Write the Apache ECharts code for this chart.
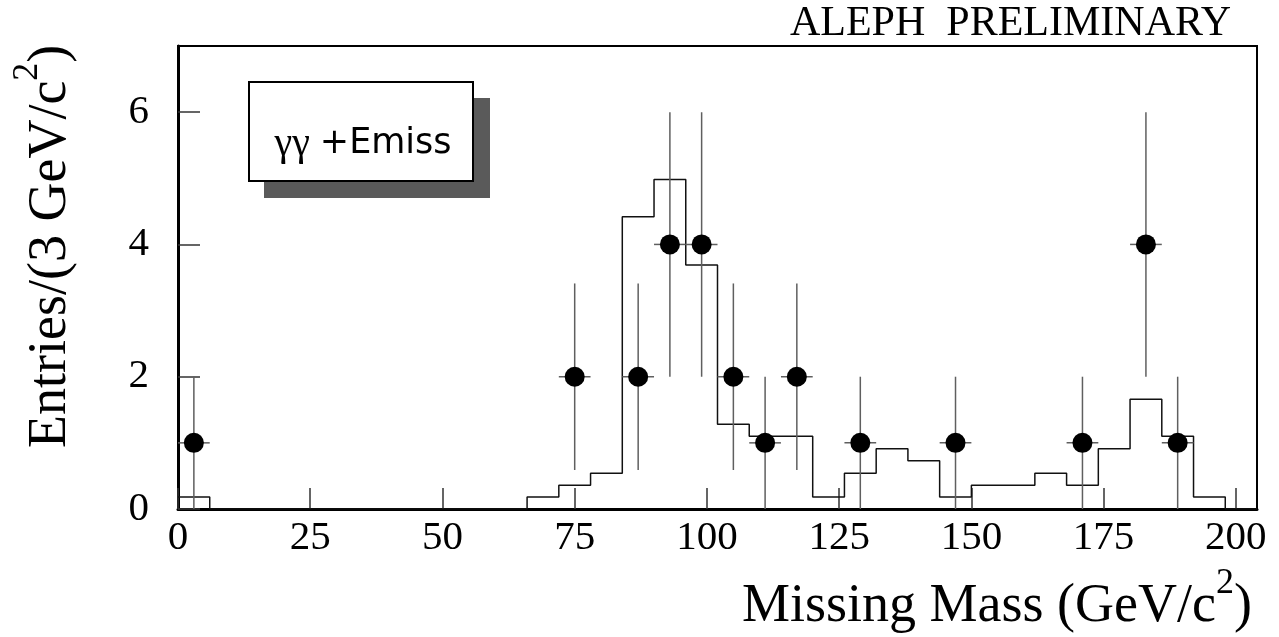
<!DOCTYPE html>
<html>
<head>
<meta charset="utf-8">
<script src="https://cdn.jsdelivr.net/npm/echarts@6/dist/echarts.min.js"></script>
<style>
  html, body { margin: 0; padding: 0; background: #fff; }
  #chart { width: 1279px; height: 637px; }
</style>
</head>
<body>
<div id="chart"></div>
<script>
// Simulated expectation: heights of 6 GeV/c^2 bins from 0 to 204
const binWidth = 6;
const mcHeights = [
  0.18, 0, 0, 0, 0, 0, 0, 0, 0, 0,
  0, 0.18, 0.36, 0.54, 4.42, 4.98, 3.69, 1.28, 1.10, 1.10,
  0.18, 0.54, 0.91, 0.73, 0.18, 0.36, 0.36, 0.54, 0.36, 0.91,
  1.66, 1.10, 0.18, 0
];

// Selected candidates: bin centre, entries and statistical error
const dataMass   = [3, 75, 87, 93, 99, 105, 111, 117, 129, 147, 171, 183, 189];
const dataCounts = [1, 2, 2, 4, 4, 2, 1, 2, 1, 1, 1, 4, 1];
const dataErr    = [1, 1.41, 1.41, 2, 2, 1.41, 1, 1.41, 1, 1, 1, 2, 1];

// Axis ticks
const xTicks = [0, 25, 50, 75, 100, 125, 150, 175, 200];
const yTicks = [0, 2, 4, 6];
const massMax = 204;
const entriesMax = 7;

const serif = '"Liberation Serif", "DejaVu Serif", serif';

// Step outline of the histogram: one point per left bin edge, closed at the upper edge
const histLine = mcHeights.map((h, i) => [i * binWidth, h]);
histLine.push([mcHeights.length * binWidth, 0]);

const errData = dataMass.map((m, i) => [m, dataCounts[i], dataErr[i], binWidth / 2]);
const pointData = dataMass.map((m, i) => [m, dataCounts[i]]);

// Axis title with a raised exponent
function titleRich() {
  return {
    a: { fontFamily: serif, fontSize: 54, fill: '#000', verticalAlign: 'bottom', padding: [14, 0, 0, 0] },
    s: { fontFamily: serif, fontSize: 36, fill: '#000', verticalAlign: 'top' }
  };
}

const chart = echarts.init(document.getElementById('chart'), null, { renderer: 'canvas' });

chart.setOption({
  animation: false,
  backgroundColor: '#fff',
  grid: {
    left: 178, right: 22, top: 46, bottom: 128,
    show: true, borderColor: '#000', borderWidth: 2, backgroundColor: 'transparent'
  },
  xAxis: {
    type: 'value', min: 0, max: massMax, interval: 25,
    axisLine: { show: true, onZero: false, lineStyle: { color: '#000', width: 3 } },
    axisTick: { show: true, inside: true, length: 21, lineStyle: { color: '#333', width: 1.5 } },
    axisLabel: {
      showMaxLabel: false, margin: 9, color: '#000', fontFamily: serif, fontSize: 41,
      formatter: v => (xTicks.indexOf(v) >= 0 ? String(v) : '')
    },
    splitLine: { show: false }
  },
  yAxis: {
    type: 'value', min: 0, max: entriesMax, interval: 2,
    axisLine: { show: true, onZero: false, lineStyle: { color: '#000', width: 3 } },
    axisTick: { show: true, inside: true, length: 22, lineStyle: { color: '#333', width: 1.5 } },
    axisLabel: {
      showMaxLabel: false, margin: 29, color: '#000', fontFamily: serif, fontSize: 41,
      formatter: v => (yTicks.indexOf(v) >= 0 ? String(v) : '')
    },
    splitLine: { show: false }
  },
  graphic: [
    // label box with drop shadow
    { type: 'rect', z: 5, shape: { x: 264, y: 98, width: 226, height: 100 }, style: { fill: '#5a5a5a' } },
    { type: 'rect', z: 6, shape: { x: 249, y: 82, width: 224, height: 99 },
      style: { fill: '#fff', stroke: '#000', lineWidth: 2 } },
    { type: 'text', z: 7, x: 363, y: 144,
      style: {
        text: '{g|γγ}{t|+Emiss}',
        textAlign: 'center', textVerticalAlign: 'middle',
        rich: {
          g: { fontFamily: serif, fontSize: 40, fill: '#000' },
          t: { fontFamily: '"DejaVu Sans", sans-serif', fontSize: 35, fill: '#000', padding: [0, 0, 0, 10] }
        }
      }
    },
    // experiment tag
    { type: 'text', x: 1231, y: 45,
      style: {
        text: 'ALEPH  PRELIMINARY', fill: '#000',
        fontFamily: serif, fontSize: 42,
        textAlign: 'right', textVerticalAlign: 'bottom'
      }
    },
    // x-axis title
    { type: 'text', x: 1252, y: 600,
      style: {
        text: '{a|Missing Mass (GeV/c}{s|2}{a|)}',
        textAlign: 'right', textVerticalAlign: 'middle',
        rich: titleRich()
      }
    },
    // y-axis title
    { type: 'text', x: 44, y: 448, rotation: Math.PI / 2,
      style: {
        text: '{a|Entries/(3 GeV/c}{s|2}{a|)}',
        textAlign: 'left', textVerticalAlign: 'middle',
        rich: titleRich()
      }
    }
  ],
  series: [
    {
      name: 'expectation',
      type: 'line',
      step: 'end',
      data: histLine,
      symbol: 'none',
      lineStyle: { color: '#111', width: 1.5 },
      z: 2
    },
    {
      name: 'errors',
      type: 'custom',
      data: errData,
      z: 3,
      renderItem: function (params, api) {
        const x = api.value(0), y = api.value(1), e = api.value(2), hw = api.value(3);
        const lo = api.coord([x, Math.max(0, y - e)]);
        const hi = api.coord([x, y + e]);
        const l = api.coord([x - hw, y]);
        const r = api.coord([x + hw, y]);
        const st = { stroke: '#5f5f5f', lineWidth: 1.5 };
        return {
          type: 'group',
          children: [
            { type: 'line', shape: { x1: lo[0], y1: lo[1], x2: hi[0], y2: hi[1] }, style: st },
            { type: 'line', shape: { x1: l[0], y1: l[1], x2: r[0], y2: r[1] }, style: st }
          ]
        };
      }
    },
    {
      name: 'data',
      type: 'scatter',
      data: pointData,
      symbol: 'circle',
      symbolSize: 20,
      itemStyle: { color: '#000', opacity: 1 },
      z: 4
    }
  ]
});
</script>
</body>
</html>
